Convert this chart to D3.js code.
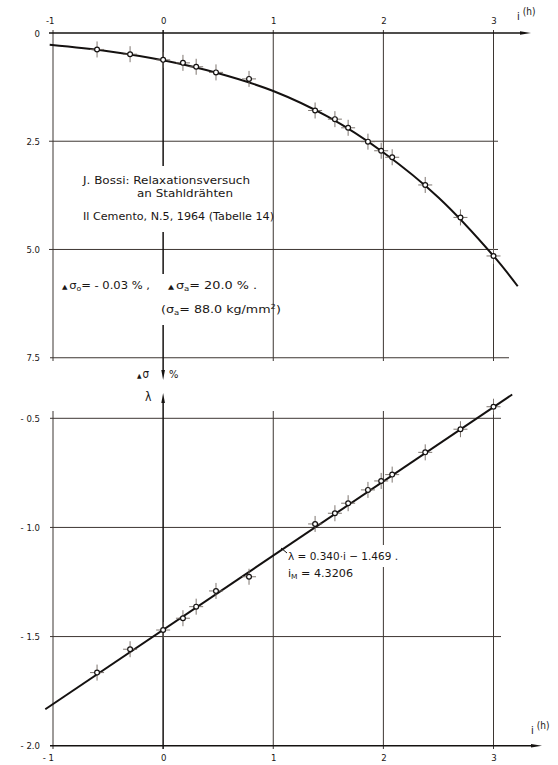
<!DOCTYPE html>
<html><head><meta charset="utf-8">
<script src="https://cdn.jsdelivr.net/npm/d3@7"></script>
<style>
html,body{margin:0;padding:0;background:#fff;}
svg{display:block;}
text{font-family:"DejaVu Sans Condensed","Liberation Sans Narrow","DejaVu Sans",sans-serif;fill:#1a1614;}
.ann text{font-family:"DejaVu Sans",sans-serif;}
</style></head><body>
<svg id="chart" width="558" height="765"></svg>
<script>
// ---------- data ----------
const xTicks = [-1, 0, 1, 2, 3];
const xTickLabelsTop = ["-1", "0", "1", "2", "3"];
const xTickLabelsBottom = ["- 1", "0", "1", "2", "3"];
const yTopTicks = [0, 2.5, 5.0, 7.5];
const yTopLabels = ["0", "2.5", "5.0", "7.5"];
const yBotTicks = [-0.5, -1.0, -1.5, -2.0];
const yBotLabels = ["- 0.5", "- 1.0", "- 1.5", "- 2.0"];

// measured points: i = log time (h)
const iValues = [-0.60, -0.30, 0.00, 0.18, 0.30, 0.48, 0.78, 1.38, 1.56, 1.68, 1.86, 1.98, 2.08, 2.38, 2.70, 3.00];
const deltaSigma = [0.38, 0.49, 0.62, 0.69, 0.78, 0.91, 1.06, 1.79, 1.99, 2.19, 2.51, 2.72, 2.87, 3.51, 4.26, 5.15];
const lambdaValues = [-1.665, -1.558, -1.470, -1.416, -1.363, -1.291, -1.226, -0.984, -0.935, -0.889, -0.828, -0.787, -0.758, -0.656, -0.550, -0.447];

// fitted curve (top)
const curveI = [-1.03, -0.5, 0, 0.5, 1, 1.5, 2, 2.5, 3, 3.22];
const curveDeltaSigma = [0.27, 0.42, 0.63, 0.93, 1.34, 1.94, 2.76, 3.80, 5.15, 5.85];
// fitted straight line (bottom)
const fitI = [-1.07, 3.17];
const fitLambda = [-1.833, -0.391];

// ---------- scales ----------
const svg = d3.select("#chart");
const x = d3.scaleLinear().domain([-1, 3]).range([53, 493.5]);
const yTop = d3.scaleLinear().domain([0, 7.5]).range([33, 357.7]);
const yBot = d3.scaleLinear().domain([-0.5, -2.0]).range([418.3, 745.7]);

const AX = "#151210", GR = "#3d3632";
const gGrid = svg.append("g");
function line(x1, y1, x2, y2, w, c) {
  gGrid.append("line").attr("x1", x1).attr("y1", y1).attr("x2", x2).attr("y2", y2)
    .attr("stroke", c).attr("stroke-width", w);
}
function arrow(tx, ty, dir) {
  let p;
  if (dir === "r") p = [[tx, ty], [tx - 11, ty - 1.8], [tx - 11, ty + 1.8]];
  if (dir === "d") p = [[tx, ty], [tx - 1.8, ty - 10], [tx + 1.8, ty - 10]];
  if (dir === "u") p = [[tx, ty], [tx - 1.8, ty + 10], [tx + 1.8, ty + 10]];
  gGrid.append("path").attr("d", "M" + p.map(q => q.join(",")).join("L") + "Z").attr("fill", AX);
}

// ---------- top panel grid ----------
xTicks.filter(d => d !== 0).forEach(d => line(x(d), 30, x(d), 361, 1, GR));
line(49, yTop(2.5), 498, yTop(2.5), 1, GR);
line(49, yTop(5.0), 498, yTop(5.0), 1, GR);
line(50, yTop(7.5), 509, yTop(7.5), 1.1, GR);
line(49, yTop(0), 522, yTop(0), 1.4, AX);
arrow(531, yTop(0), "r");
line(x(0), 30, x(0), 372, 1.5, AX);
arrow(x(0), 380, "d");

// ---------- bottom panel grid ----------
xTicks.filter(d => d !== 0).forEach(d => line(x(d), 411, x(d), 749, 1, GR));
[-0.5, -1.0, -1.5].forEach(v => line(50, yBot(v), 501, yBot(v), 1, GR));
line(50, yBot(-2.0), 533, yBot(-2.0), 1.4, AX);
arrow(542, yBot(-2.0), "r");
line(x(0), 402, x(0), 749, 1.5, AX);
arrow(x(0), 393, "u");

// ---------- axes (labels) ----------
const fs = 9.5;
function styleAxis(g) {
  g.select(".domain").remove();
  g.attr("font-family", null).attr("font-size", fs);
  g.selectAll("text").attr("fill", "#1a1614");
}
svg.append("g").attr("transform", `translate(0,${yTop(0)})`)
  .call(d3.axisTop(x).tickValues(xTicks).tickSize(0).tickPadding(9).tickFormat((d, i) => xTickLabelsTop[i]))
  .call(styleAxis)
  .call(g => g.selectAll("text").attr("dx", d => d < 0 ? "-0.35em" : 0));
svg.append("g").attr("transform", `translate(0,${yBot(-2.0)})`)
  .call(d3.axisBottom(x).tickValues(xTicks).tickSize(0).tickPadding(9).tickFormat((d, i) => xTickLabelsBottom[i]))
  .call(styleAxis)
  .call(g => g.selectAll("text").attr("dx", d => d < 0 ? "-0.55em" : 0));
svg.append("g").attr("transform", `translate(53,0)`)
  .call(d3.axisLeft(yTop).tickValues(yTopTicks).tickSize(0).tickPadding(13).tickFormat((d, i) => yTopLabels[i]))
  .call(styleAxis);
svg.append("g").attr("transform", `translate(53,0)`)
  .call(d3.axisLeft(yBot).tickValues(yBotTicks).tickSize(0).tickPadding(13).tickFormat((d, i) => yBotLabels[i]))
  .call(styleAxis);

// axis titles
function iLabel(xx, yy) {
  const t = svg.append("text").attr("x", xx).attr("y", yy).attr("font-size", 11);
  t.append("tspan").text("i");
  t.append("tspan").attr("dx", 3).attr("dy", -5).attr("font-size", 10).text("(h)");
}
iLabel(517, 20);
iLabel(531, 734);
const ds = svg.append("text").attr("x", 137).attr("y", 378).attr("font-size", 11.5);
ds.append("tspan").attr("font-size", 6.5).text("▲");
ds.append("tspan").attr("dx", 1).text("σ");
svg.append("text").attr("x", 169).attr("y", 378).attr("font-size", 11).text("%");
svg.append("text").attr("x", 145).attr("y", 401).attr("font-size", 12).text("λ");

// ---------- annotations ----------
const ann = svg.append("g").attr("class", "ann").attr("font-size", 10.5);
function fit(t, len) { return t.attr("textLength", len).attr("lengthAdjust", "spacingAndGlyphs"); }
function txt(xx, yy, s, len) {
  return fit(ann.append("text").attr("x", xx).attr("y", yy).text(s), len);
}
txt(83, 184, "J. Bossi:  Relaxationsversuch", 167);
txt(137, 197, "an Stahldrähten", 96);
txt(83, 220, "Il  Cemento, N.5, 1964   (Tabelle 14)", 191);

function dsig(xx, yy, sub, rest, len) {
  const t = ann.append("text").attr("x", xx).attr("y", yy);
  t.append("tspan").attr("font-size", 6.5).text("▲");
  t.append("tspan").attr("dx", 1.5).text("σ");
  t.append("tspan").attr("font-size", 7).attr("dy", 2).text(sub);
  t.append("tspan").attr("dy", -2).text(rest);
  return fit(t, len);
}
dsig(62, 289, "o", "= - 0.03 % ,", 88);
dsig(168, 289, "a", "=  20.0 % .", 89);
const r2 = ann.append("text").attr("x", 161).attr("y", 313);
r2.append("tspan").text("(σ");
r2.append("tspan").attr("font-size", 7).attr("dy", 2).text("a");
r2.append("tspan").attr("dy", -2).text("=  88.0 kg/mm");
r2.append("tspan").attr("font-size", 7).attr("dy", -4).text("2");
r2.append("tspan").attr("dy", 4).text(")");
fit(r2, 120);

fit(ann.append("text").attr("x", 288).attr("y", 560).text("λ = 0.340·i − 1.469 ."), 110);
const f2 = ann.append("text").attr("x", 288).attr("y", 577);
f2.append("tspan").text("i");
f2.append("tspan").attr("font-size", 7).attr("dy", 2).text("M");
f2.append("tspan").attr("dy", -2).text(" = 4.3206");
fit(f2, 65);

// knock-outs of grid lines behind texts
function knockRect(xx, y1, y2) {
  gGrid.append("rect").attr("x", xx - 3).attr("y", y1).attr("width", 6).attr("height", y2 - y1).attr("fill", "#fff");
}
knockRect(x(0), 166, 232);
knockRect(x(0), 274, 325);
knockRect(x(2), 545, 567);

// leader to formula
gGrid.append("path").attr("d", "M281,548 L287,553").attr("stroke", AX).attr("stroke-width", 1).attr("fill", "none");

// ---------- curves ----------
const curveData = curveI.map((d, k) => [d, curveDeltaSigma[k]]);
svg.append("path").datum(curveData)
  .attr("d", d3.line().x(d => x(d[0])).y(d => yTop(d[1])).curve(d3.curveCatmullRom))
  .attr("fill", "none").attr("stroke", "#141110").attr("stroke-width", 2);
const fitData = fitI.map((d, k) => [d, fitLambda[k]]);
svg.append("path").datum(fitData)
  .attr("d", d3.line().x(d => x(d[0])).y(d => yBot(d[1])))
  .attr("fill", "none").attr("stroke", "#141110").attr("stroke-width", 2);

// ---------- points ----------
function points(vals, yS) {
  const g = svg.append("g");
  const pts = iValues.map((d, k) => [x(d), yS(vals[k])]);
  pts.forEach(([px, py]) => {
    g.append("line").attr("x1", px).attr("x2", px).attr("y1", py - 8).attr("y2", py + 8)
      .attr("stroke", "#6f6660").attr("stroke-width", 0.9);
    g.append("line").attr("x1", px - 7).attr("x2", px + 7).attr("y1", py).attr("y2", py)
      .attr("stroke", "#6f6660").attr("stroke-width", 0.9);
  });
  g.selectAll("circle").data(pts).join("circle")
    .attr("cx", d => d[0]).attr("cy", d => d[1]).attr("r", 2.4)
    .attr("fill", "#fff").attr("stroke", "#141110").attr("stroke-width", 1.2);
}
points(deltaSigma, yTop);
points(lambdaValues, yBot);
</script>
</body></html>
